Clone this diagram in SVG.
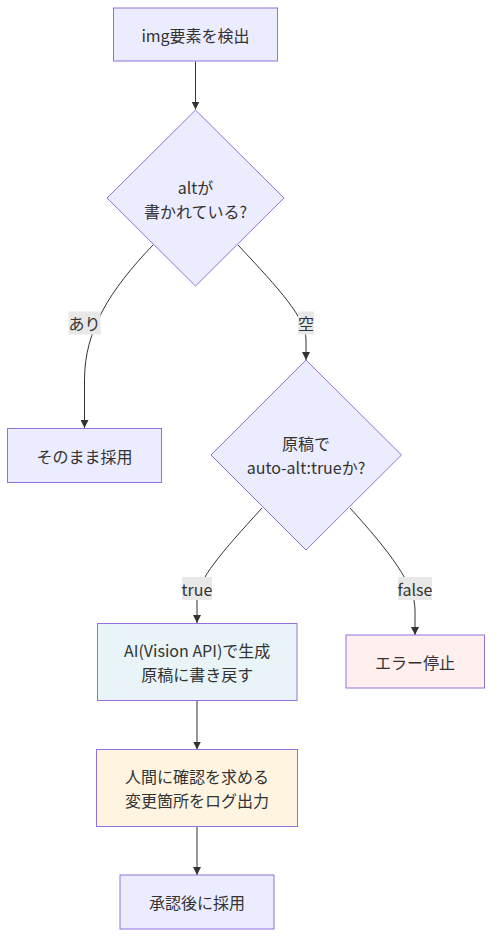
<svg xmlns="http://www.w3.org/2000/svg" width="500" height="951" viewBox="0 0 500 951">
<defs>
<style>
.n{fill:#ECECFF;stroke:#9370DB;stroke-width:1px}
.ai{fill:#E8F4F8;stroke:#9370DB;stroke-width:1px}
.err{fill:#FFEFEF;stroke:#9370DB;stroke-width:1px}
.hum{fill:#FFF4E0;stroke:#9370DB;stroke-width:1px}
text{font-family:"Noto Sans CJK JP","Noto Sans",sans-serif;font-size:16px;fill:#333;text-anchor:middle;dominant-baseline:central}
.e{fill:none;stroke:#333;stroke-width:1px}
.lb{fill:#E8E8E8}
</style>
<marker id="ah" viewBox="0 0 10 10" refX="10" refY="5" markerWidth="8" markerHeight="8" markerUnits="userSpaceOnUse" orient="auto">
<path d="M0,0 L10,5 L0,10 z" fill="#333"/>
</marker>
</defs>
<rect width="500" height="951" fill="#fff"/>
<g id="connectors">
<path class="e" d="M195.5,61.5 L195.5,109.5" marker-end="url(#ah)"/>
<path class="e" d="M153,245 C110,290 84.5,330 84.5,380 L84.5,428" marker-end="url(#ah)"/>
<path class="e" d="M238,245 C280,290 306,318 306,340 L306,360" marker-end="url(#ah)"/>
<path class="e" d="M262,508 C222,552 197,580 197,600 L197,623" marker-end="url(#ah)"/>
<path class="e" d="M350,508 C390,552 415,585 415,610 L415,635" marker-end="url(#ah)"/>
<path class="e" d="M197,700.5 L197,749.5" marker-end="url(#ah)"/>
<path class="e" d="M197,826.5 L197,875" marker-end="url(#ah)"/>
<g id="edge-labels">
<rect class="lb" x="68.5" y="311.5" width="32" height="23"/>
<text x="84.5" y="323">あり</text>
<rect class="lb" x="298" y="311.5" width="16" height="23"/>
<text x="306" y="323">空</text>
<rect class="lb" x="182" y="577" width="30" height="23"/>
<text x="197" y="588.5">true</text>
<rect class="lb" x="398" y="577" width="34" height="23"/>
<text x="415" y="588.5">false</text>
</g>
</g>
<g id="detect">
<rect class="n" x="113.5" y="8" width="164" height="53"/>
<text x="195.5" y="34.5">img要素を検出</text>
</g>
<g id="altq">
<polygon class="n" points="195.5,110 284,198 195.5,286 107,198"/>
<text x="195.5" y="187">altが</text>
<text x="195.5" y="211">書かれている?</text>
</g>
<g id="keep">
<rect class="n" x="7.5" y="428.5" width="154" height="54"/>
<text x="84.5" y="455.5">そのまま採用</text>
</g>
<g id="autoq">
<polygon class="n" points="306,360 401.5,455 306,550 211,455"/>
<text x="306" y="443">原稿で</text>
<text x="306" y="467">auto-alt:trueか?</text>
</g>
<g id="gen">
<rect class="ai" x="97.5" y="623.5" width="199.5" height="77"/>
<text x="197.2" y="650">AI(Vision API)で生成</text>
<text x="197.2" y="674">原稿に書き戻す</text>
</g>
<g id="error">
<rect class="err" x="346" y="635" width="138.5" height="53"/>
<text x="415" y="661.5">エラー停止</text>
</g>
<g id="confirm">
<rect class="hum" x="96.5" y="749.5" width="201" height="77"/>
<text x="197" y="776">人間に確認を求める</text>
<text x="197" y="800">変更箇所をログ出力</text>
</g>
<g id="adopt">
<rect class="n" x="120" y="875" width="154" height="54"/>
<text x="197" y="902">承認後に採用</text>
</g>
</svg>
